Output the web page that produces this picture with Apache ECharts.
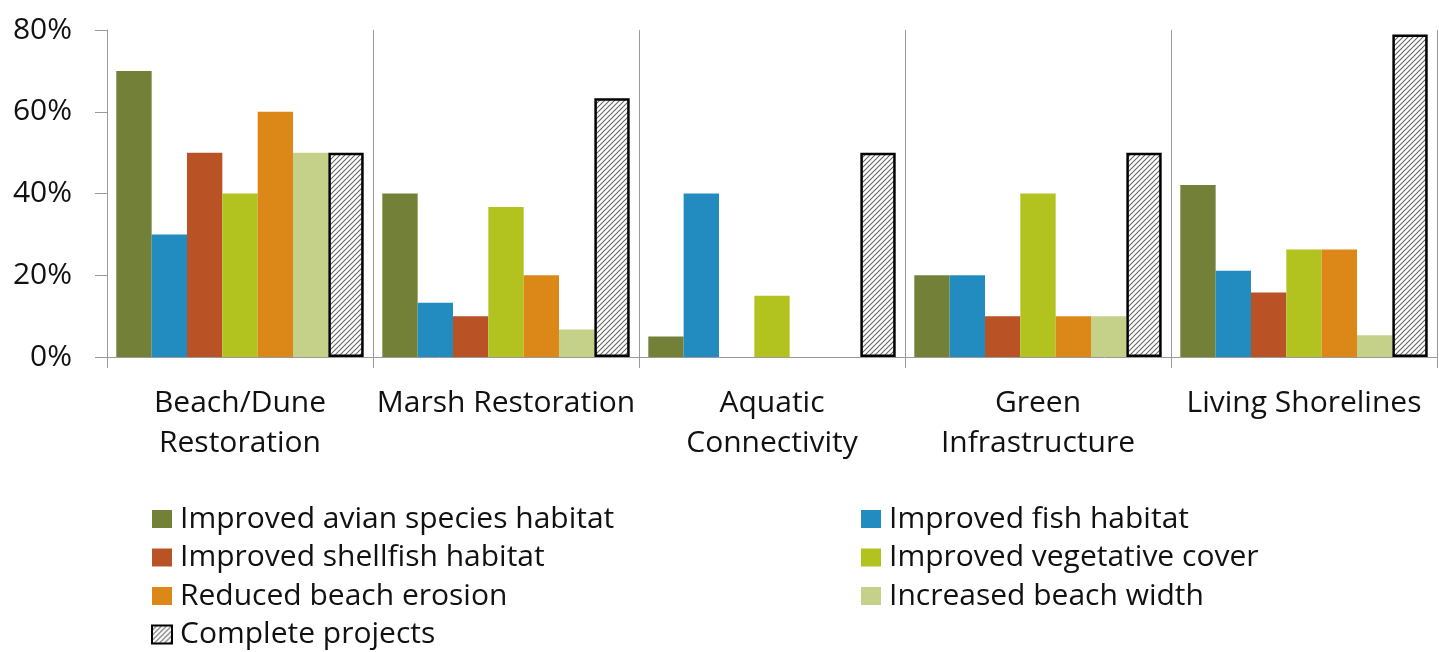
<!DOCTYPE html>
<html>
<head>
<meta charset="utf-8">
<script src="https://cdn.jsdelivr.net/npm/echarts@6/dist/echarts.min.js"></script>
<style>
  html, body { margin: 0; padding: 0; background: #fff; }
  #chart { width: 1439px; height: 652px; }
</style>
</head>
<body>
<div id="chart"></div>
<script>
// Project types along the x axis
const categories = [
  'Beach/Dune\nRestoration',
  'Marsh Restoration',
  'Aquatic\nConnectivity',
  'Green\nInfrastructure',
  'Living Shorelines'
];

// Share of projects reporting each outcome (%)
const avianHabitat      = [70, 40.0,  5, 20, 42.1];
const fishHabitat       = [30, 13.3, 40, 20, 21.1];
const shellfishHabitat  = [50, 10.0,  0, 10, 15.8];
const vegetativeCover   = [40, 36.7, 15, 40, 26.3];
const beachErosion      = [60, 20.0,  0, 10, 26.3];
const beachWidth        = [50,  6.7,  0, 10,  5.3];
const completeProjects  = [50, 63.3, 50, 50, 78.9];

const yTicks = [0, 20, 40, 60, 80];

const FONT = '"Open Sans", "Noto Sans", sans-serif';
const TEXT = '#111111';
const AXIS = '#9a9a9a';

// Diagonal hatch fill for the "Complete projects" bars
function hatchPattern() {
  const c = document.createElement('canvas');
  c.width = 5; c.height = 5;
  const g = c.getContext('2d');
  g.fillStyle = '#ffffff';
  g.fillRect(0, 0, 5, 5);
  g.strokeStyle = '#666666';
  g.lineWidth = 1.1;
  g.beginPath();
  g.moveTo(-1, 6); g.lineTo(6, -1);
  g.moveTo(-1, 1); g.lineTo(1, -1);
  g.moveTo(4, 6); g.lineTo(6, 4);
  g.stroke();
  return { image: c, repeat: 'repeat' };
}

const seriesDefs = [
  { name: 'Improved avian species habitat', data: avianHabitat,     color: '#728038' },
  { name: 'Improved fish habitat',          data: fishHabitat,      color: '#228bc0' },
  { name: 'Improved shellfish habitat',     data: shellfishHabitat, color: '#b95224' },
  { name: 'Improved vegetative cover',      data: vegetativeCover,  color: '#b2c31f' },
  { name: 'Reduced beach erosion',          data: beachErosion,     color: '#db8818' },
  { name: 'Increased beach width',          data: beachWidth,       color: '#c5d188' }
];

const series = seriesDefs.map(s => ({
  name: s.name,
  type: 'bar',
  data: s.data,
  barGap: '0%',
  barCategoryGap: '7%',
  itemStyle: { color: s.color },
  emphasis: { disabled: true }
}));

series.push({
  name: 'Complete projects',
  type: 'bar',
  data: completeProjects,
  barGap: '0%',
  barCategoryGap: '7%',
  itemStyle: { color: hatchPattern(), borderColor: '#000', borderWidth: 2.5 },
  emphasis: { disabled: true }
});

const legendText = { fontFamily: FONT, fontSize: 30, color: TEXT, padding: [0, 0, 0, 3] };
const legendBase = {
  orient: 'vertical', top: 504, height: 160, padding: 0,
  itemWidth: 20, itemHeight: 18, itemGap: 8.5,
  icon: 'rect',
  textStyle: legendText
};

const chart = echarts.init(document.getElementById('chart'), null, { renderer: 'canvas' });
chart.setOption({
  animation: false,
  backgroundColor: '#fff',
  grid: { left: 107, right: 2, top: 30, bottom: 295, containLabel: false },
  legend: [
    Object.assign({}, legendBase, {
      left: 151,
      data: ['Improved avian species habitat', 'Improved shellfish habitat', 'Reduced beach erosion', 'Complete projects']
    }),
    Object.assign({}, legendBase, {
      left: 861,
      data: ['Improved fish habitat', 'Improved vegetative cover', 'Increased beach width']
    })
  ],
  xAxis: {
    type: 'category',
    data: categories,
    boundaryGap: true,
    axisLine: { show: true, lineStyle: { color: AXIS, width: 1 } },
    axisTick: { show: true, length: 11, lineStyle: { color: AXIS } },
    splitLine: { show: true, lineStyle: { color: AXIS, width: 1 } },
    axisLabel: {
      interval: 0, margin: 26,
      fontFamily: FONT, fontSize: 30, color: TEXT, lineHeight: 40
    }
  },
  yAxis: {
    type: 'value',
    min: 0, max: 80, interval: 20,
    axisLine: { show: true, lineStyle: { color: AXIS, width: 1 } },
    axisTick: { show: true, length: 12, lineStyle: { color: AXIS } },
    splitLine: { show: false },
    axisLabel: {
      margin: 35,
      fontFamily: FONT, fontSize: 30, color: TEXT,
      formatter: v => (yTicks.includes(v) ? v + '%' : '')
    }
  },
  series: series
});
</script>
</body>
</html>
